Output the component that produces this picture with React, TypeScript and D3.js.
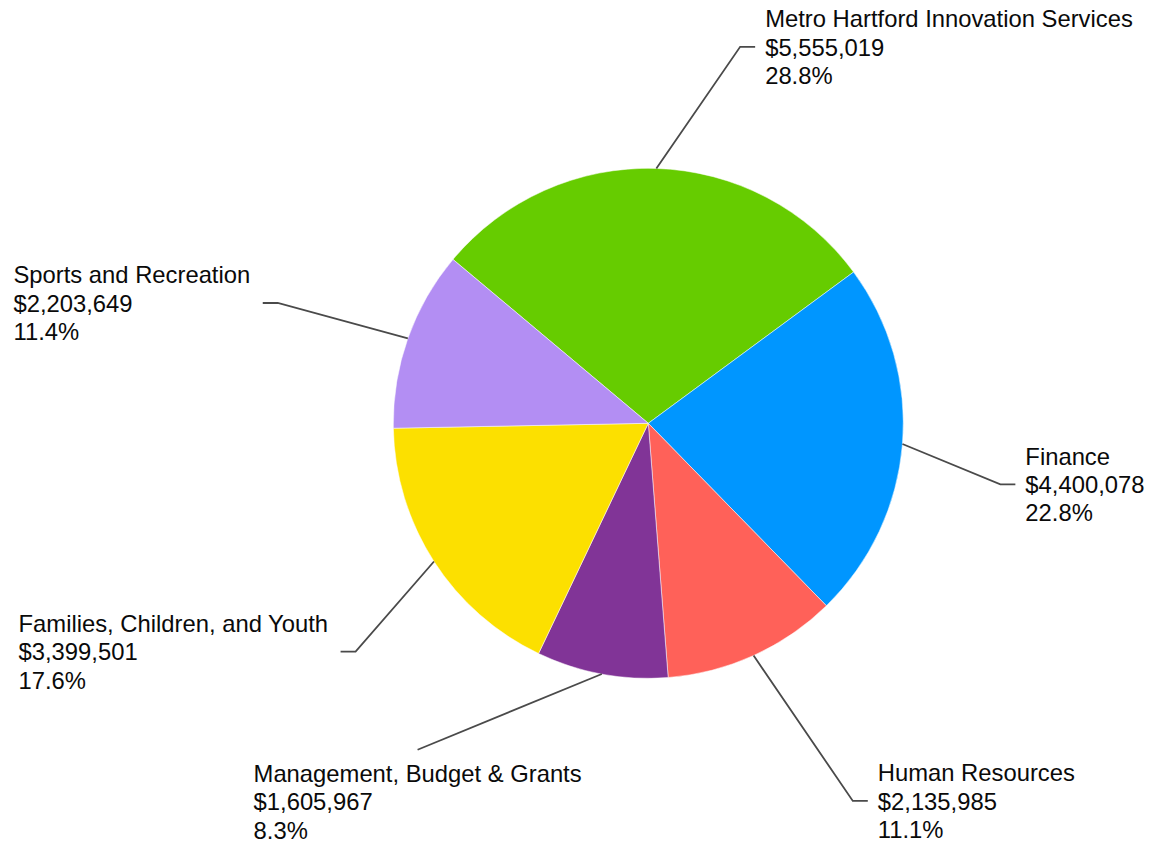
import React, { useEffect, useRef } from "react";
import * as d3 from "d3";

// ---- data ----
const categories = [
  "Metro Hartford Innovation Services",
  "Finance",
  "Human Resources",
  "Management, Budget & Grants",
  "Families, Children, and Youth",
  "Sports and Recreation",
];
const values = [5555019, 4400078, 2135985, 1605967, 3399501, 2203649];
const colors = ["#66cc00", "#0096ff", "#ff6159", "#813497", "#fce000", "#b38ef3"];

// ---- layout (label leader elbows relative to slice outer mid-point) ----
const W = 1149;
const H = 846;
const CX = 648.3;
const CY = 423.3;
const R = 255;
const START = (-50 * Math.PI) / 180;
const FONT = 23.8;
const LINE_H = 28.3;
const leaderLayout = [
  { dx: 83.8, dy: -121.6, side: "right" },
  { dx: 97.9, dy: 40.4, side: "right" },
  { dx: 99.2, dy: 145.4, side: "right" },
  { dx: -184.2, dy: 75.7, side: "below" },
  { dx: -78.4, dy: 90.2, side: "left" },
  { dx: -130.1, dy: -35.4, side: "left" },
];

export default function App() {
  const ref = useRef<SVGSVGElement | null>(null);

  useEffect(() => {
    const svg = d3.select(ref.current);
    svg.selectAll("*").remove();

    const total = d3.sum(values);
    const data = categories.map((c, i) => ({ name: c, value: values[i], color: colors[i], i }));
    const pie = d3
      .pie<any>()
      .sort(null)
      .value((d: any) => d.value)
      .startAngle(START)
      .endAngle(START + 2 * Math.PI);
    const arcs = pie(data);
    const arc = d3.arc<any>().innerRadius(0).outerRadius(R);
    const edgeArc = d3.arc<any>().innerRadius(R).outerRadius(R);

    const g = svg.append("g").attr("transform", `translate(${CX},${CY})`);
    g.selectAll("path.slice")
      .data(arcs)
      .join("path")
      .attr("class", "slice")
      .attr("d", arc as any)
      .attr("fill", (d: any) => d.data.color)
      .attr("stroke", "#ffffff")
      .attr("stroke-width", 0.5);

    const fmtMoney = d3.format("$,");
    const fmtPct = d3.format(".1f");

    arcs.forEach((a: any, k: number) => {
      const lay = leaderLayout[k];
      const [ex, ey] = edgeArc.centroid(a);
      const bx = ex + lay.dx;
      const by = ey + lay.dy;
      const lines = [a.data.name, fmtMoney(a.data.value), fmtPct((a.data.value / total) * 100) + "%"];

      const pts: [number, number][] = [
        [ex, ey],
        [bx, by],
      ];
      if (lay.side === "right") pts.push([bx + 15, by]);
      if (lay.side === "left") pts.push([bx - 15, by]);
      g.append("path")
        .attr("d", d3.line()(pts) as string)
        .attr("fill", "none")
        .attr("stroke", "#4a4a4a")
        .attr("stroke-width", 1.8);

      const t = g
        .append("text")
        .attr("font-family", "Arial, 'Liberation Sans', sans-serif")
        .attr("font-size", FONT)
        .attr("fill", "#0a0a0a");
      const spans = lines.map((s) => t.append("tspan").text(s));
      const widths = spans.map((sp) => (sp.node() as SVGTSpanElement).getComputedTextLength());
      const maxW = d3.max(widths) || 0;

      let tx = 0;
      let firstBase = 0;
      if (lay.side === "right") {
        tx = bx + 25;
        firstBase = by + 8.7 - LINE_H;
      } else if (lay.side === "left") {
        tx = bx - 15 - 12.5 - maxW;
        firstBase = by + 8.7 - LINE_H;
      } else {
        tx = bx - maxW / 2;
        firstBase = by + 32.4;
      }
      spans.forEach((sp, j) => sp.attr("x", tx).attr("y", firstBase + j * LINE_H));
    });
  }, []);

  return (
    <svg
      ref={ref}
      width={W}
      height={H}
      style={{ position: "absolute", left: 0, top: 0, display: "block", background: "#ffffff" }}
    />
  );
}
